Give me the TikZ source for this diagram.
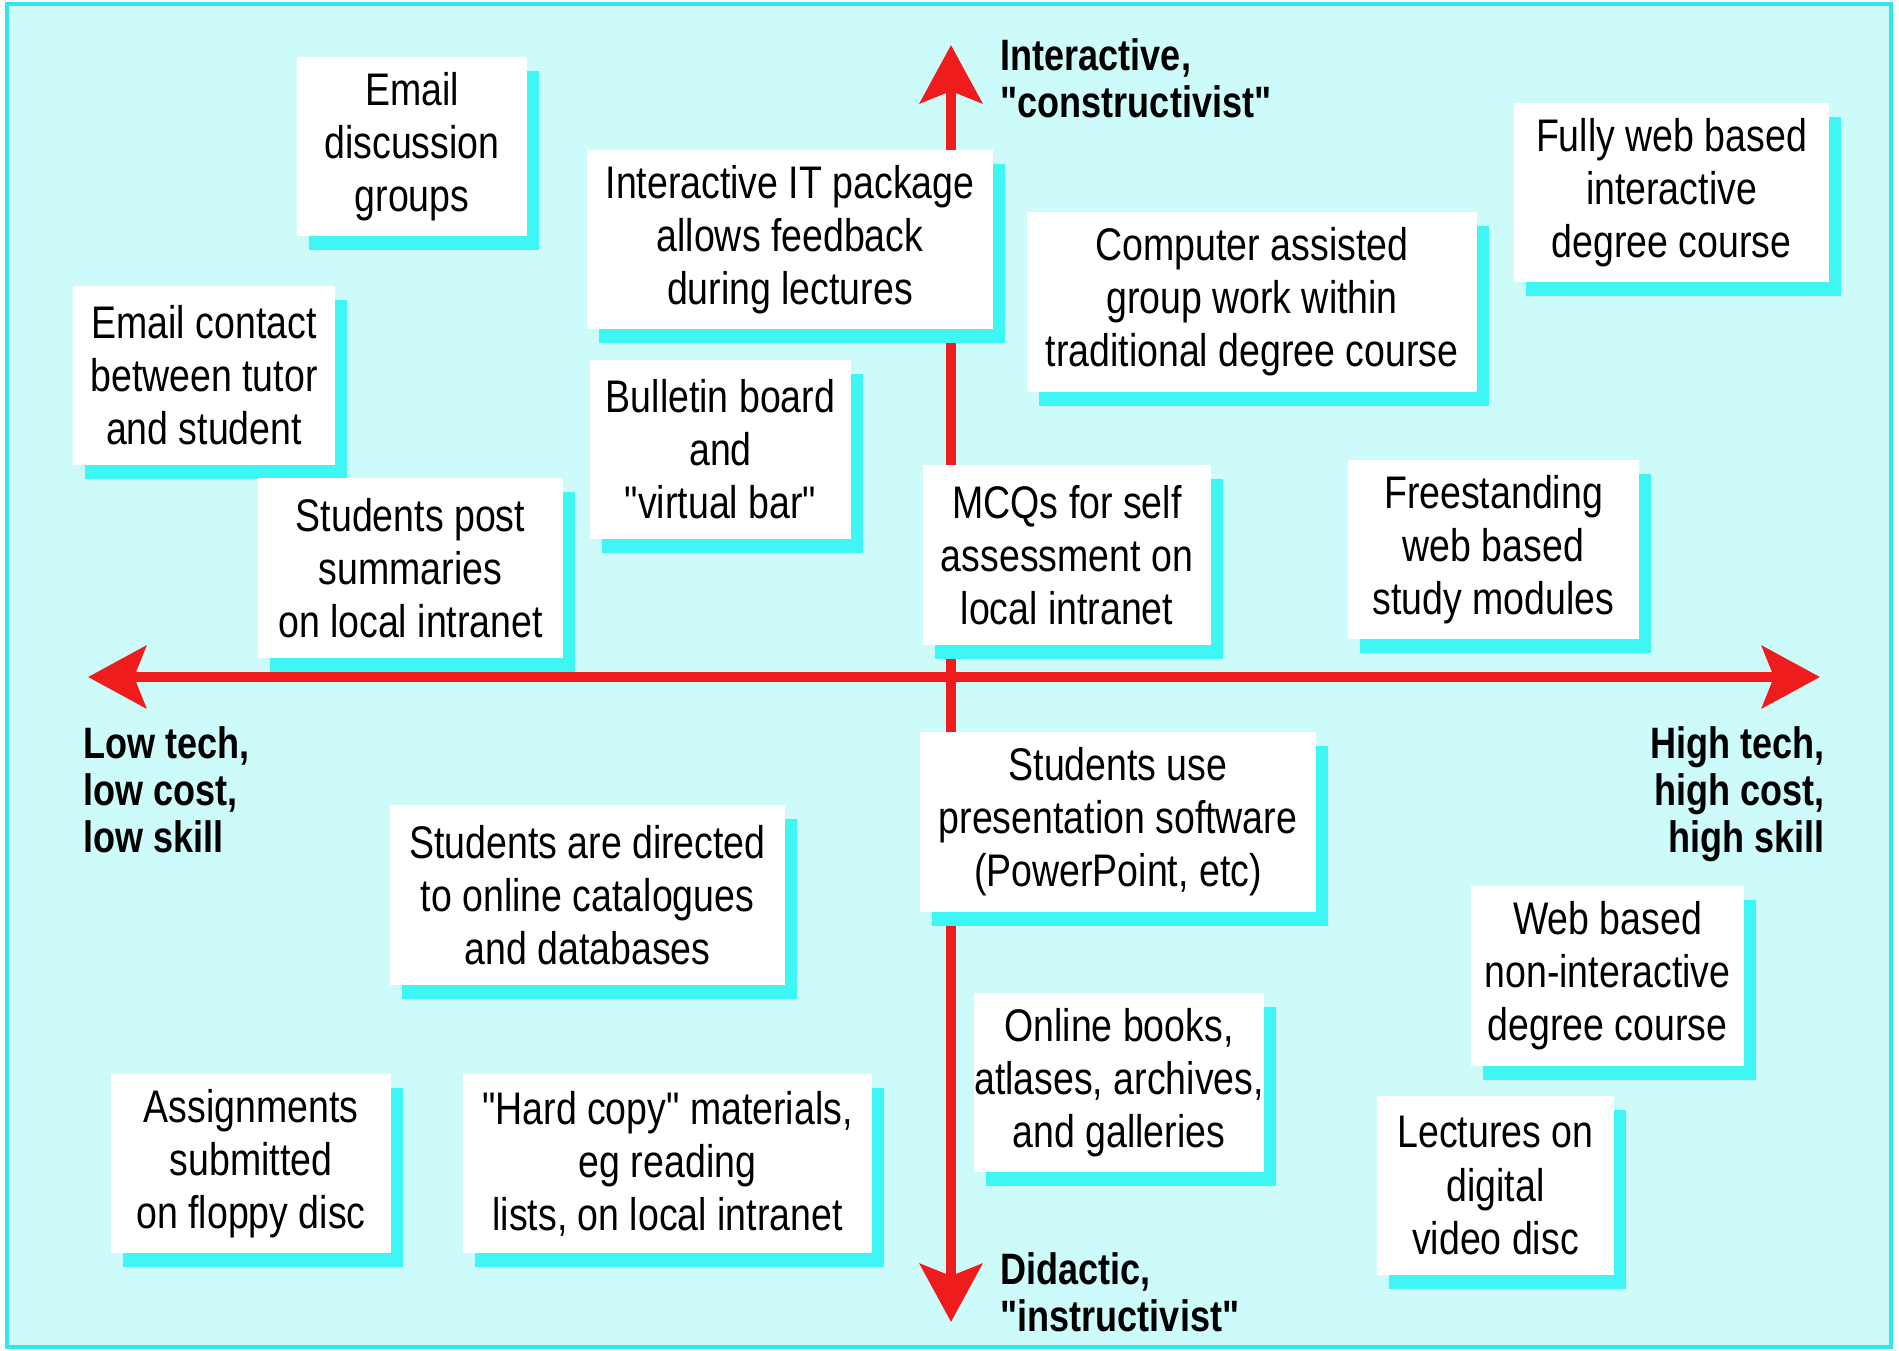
\documentclass[tikz,border=0pt]{standalone}
\usepackage{fontspec}
\setmainfont{Liberation Sans}[FakeStretch=0.82, Ligatures=TeXOff]
\usetikzlibrary{arrows.meta,shadows}
\definecolor{paneback}{HTML}{CCFBFA}
\definecolor{paneedge}{HTML}{33E5EE}
\definecolor{cardshade}{HTML}{3EF7F5}
\definecolor{axisred}{HTML}{EE1C1C}

\begin{document}
\begin{tikzpicture}[x=0.01cm,y=-0.01cm]
                \tikzstyle{card}=[fill=white, inner sep=0pt, align=center, minimum height=1.79cm, font=\fontsize{13}{15.1}\selectfont, drop shadow={shadow xshift=0.12cm, shadow yshift=-0.14cm, fill=cardshade, opacity=1}]
                \tikzstyle{pole}=[inner sep=0pt, font=\fontsize{12.5}{13.3}\selectfont\bfseries]
                \tikzstyle{axis}=[axisred, line width=0.1cm, >={Stealth[length=0.58cm,width=0.62cm,inset=0.12cm]}, <->]
                \useasboundingbox (0,0) rectangle (1899,1350);
                \draw [paneedge, line width=0.04cm, fill=paneback] (7,4) rectangle (1891,1347);
                % axes
                \coordinate (west) at (88,677);
                \coordinate (east) at (1820,677);
                \coordinate (north) at (951,45);
                \coordinate (south) at (951,1322);
                \draw [axis] (west) -- (east);
                \draw [axis] (north) -- (south);
                % pole labels
                \node [pole, anchor=north west, align=left] (interactive) at (1000,38) {Interactive,\\"constructivist"};
                \node [pole, anchor=north west, align=left] (didactic) at (1000,1252) {Didactic,\\"instructivist"};
                \node [pole, anchor=north west, align=left] (lowtech) at (83,726) {Low tech,\\low cost,\\low skill};
                \node [pole, anchor=north east, align=right] (hightech) at (1825,726) {High tech,\\high cost,\\high skill};
                % upper half
                \node [card, minimum width=2.30cm] (emailgroups) at (412,146.5) {Email\\discussion\\groups};
                \node [card, minimum width=2.62cm] (emailcontact) at (204,375.5) {Email contact\\between tutor\\and student};
                \node [card, minimum width=3.05cm] (summaries) at (410.5,568) {Students post\\summaries\\on local intranet};
                \node [card, minimum width=4.06cm] (itpackage) at (790,239.5) {Interactive IT package\\allows feedback\\during lectures};
                \node [card, minimum width=2.61cm] (bulletin) at (720.5,449.5) {Bulletin board\\and\\"virtual bar"};
                \node [card, minimum width=4.50cm] (groupwork) at (1252,302) {Computer assisted\\group work within\\traditional degree course};
                \node [card, minimum width=3.15cm] (fullyweb) at (1671.5,192.5) {Fully web based\\interactive\\degree course};
                \node [card, minimum width=2.88cm] (mcqs) at (1067,555) {MCQs for self\\assessment on\\local intranet};
                \node [card, minimum width=2.91cm] (freestanding) at (1493.5,549.5) {Freestanding\\web based\\study modules};
                % lower half
                \node [card, minimum width=3.96cm] (presentation) at (1118,822) {Students use\\presentation software\\(PowerPoint, etc)};
                \node [card, minimum width=3.95cm] (catalogues) at (587.5,895) {Students are directed\\to online catalogues\\and databases};
                \node [card, minimum width=2.73cm] (webcourse) at (1607.5,976) {Web based\\non-interactive\\degree course};
                \node [card, minimum width=2.88cm] (onlinebooks) at (1119,1082.5) {Online books,\\atlases, archives,\\and galleries};
                \node [card, minimum width=2.80cm] (floppy) at (251,1163.5) {Assignments\\submitted\\on floppy disc};
                \node [card, minimum width=4.09cm] (hardcopy) at (667.5,1163.5) {"Hard copy" materials,\\eg reading\\lists, on local intranet};
                \node [card, minimum width=2.37cm] (videodisc) at (1495.5,1185.5) {Lectures on\\digital\\video disc};
\end{tikzpicture}
\end{document}
